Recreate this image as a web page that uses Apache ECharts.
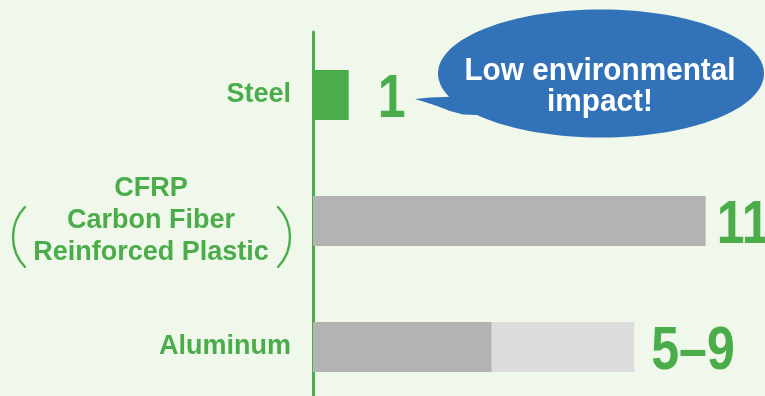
<!DOCTYPE html>
<html>
<head>
<meta charset="utf-8">
<script src="https://cdn.jsdelivr.net/npm/echarts@6/dist/echarts.min.js"></script>
<style>
  html, body { margin: 0; padding: 0; background: #f0f8ec; }
  #chart { width: 765px; height: 396px; }
</style>
</head>
<body>
<div id="chart"></div>
<script>
// Materials and their relative environmental impact
const categories = ['Steel', 'CFRP', 'Aluminum'];
const upperValues = [1, 11, 9];        // single value, or top of the range
const lowerValues = [null, null, 5];   // bottom of the range where one exists
const valueLabels = ['1', '11', '5–9'];

const GREEN = '#4aad4a';
const BLUE = '#3272b8';
const DARK_GRAY = '#b3b3b3';
const barFill = { Steel: GREEN, CFRP: DARK_GRAY, Aluminum: '#dcdddc' };
const labelGap = { Steel: 29, CFRP: 11, Aluminum: 17 };

const LABEL_FONT = '"Liberation Sans", Arial, sans-serif';

const chart = echarts.init(document.getElementById('chart'), null, { renderer: 'canvas' });

chart.setOption({
  animation: false,
  backgroundColor: '#f0f8ec',
  grid: { left: 313, top: 32, width: 428.4, height: 378, outerBoundsMode: 'none', containLabel: false },
  xAxis: { type: 'value', min: 0, max: 12, show: false },
  yAxis: {
    type: 'category',
    data: categories,
    inverse: true,
    axisTick: { show: false },
    splitLine: { show: false },
    axisLine: { show: true, lineStyle: { color: GREEN, width: 3 } },
    axisLabel: {
      margin: 22,
      color: GREEN,
      fontFamily: LABEL_FONT,
      fontWeight: 'bold',
      fontSize: 27,
      formatter: function (name) {
        if (name === 'CFRP') {
          return '{c|CFRP}\n{c|Carbon Fiber}\n{c|Reinforced Plastic}';
        }
        return name;
      },
      rich: {
        c: {
          width: 280,
          align: 'center',
          color: GREEN,
          fontFamily: LABEL_FONT,
          fontWeight: 'bold',
          fontSize: 27,
          lineHeight: 32
        }
      }
    }
  },
  series: [
    {
      type: 'bar',
      name: 'upper',
      barWidth: 50,
      barGap: '-100%',
      z: 2,
      data: upperValues.map(function (v, i) {
        return { value: v, itemStyle: { color: barFill[categories[i]] } };
      })
    },
    {
      type: 'bar',
      name: 'lower',
      barWidth: 50,
      z: 3,
      data: lowerValues,
      itemStyle: { color: DARK_GRAY }
    }
  ]
});

// Value figures in a condensed face, placed at the end of each bar
const valueTexts = categories.map(function (name, i) {
  const p = chart.convertToPixel({ gridIndex: 0 }, [upperValues[i], name]);
  return {
    type: 'text',
    x: p[0] + labelGap[name],
    y: p[1] + 5.5,
    scaleX: 0.82,
    z: 10,
    style: {
      text: valueLabels[i], fill: GREEN,
      font: 'bold 61px ' + LABEL_FONT, align: 'left', verticalAlign: 'middle'
    }
  };
});

// Brackets around the CFRP description
const cfrpY = chart.convertToPixel({ yAxisIndex: 0 }, 'CFRP') + 16;
const bracketR = 43.5;
const half = Math.asin(30 / bracketR);

chart.setOption({
  graphic: valueTexts.concat([
    {
      type: 'arc',
      shape: { cx: 13 + bracketR, cy: cfrpY, r: bracketR, startAngle: Math.PI - half, endAngle: Math.PI + half },
      style: { stroke: GREEN, lineWidth: 2.4, fill: null, lineCap: 'round' }
    },
    {
      type: 'arc',
      shape: { cx: 290 - bracketR, cy: cfrpY, r: bracketR, startAngle: -half, endAngle: half },
      style: { stroke: GREEN, lineWidth: 2.4, fill: null, lineCap: 'round' }
    },
    // Speech bubble
    {
      type: 'polygon',
      shape: {
        points: [[415, 99], [430, 97.5], [445, 97], [460, 96], [470, 100], [477, 115],
                 [463, 114.5], [450, 111], [437, 106], [425, 102]]
      },
      style: { fill: BLUE }
    },
    {
      type: 'ellipse',
      shape: { cx: 601, cy: 73.5, rx: 163, ry: 64 },
      style: { fill: BLUE }
    },
    {
      type: 'text',
      x: 600, y: 71, scaleX: 0.93,
      style: {
        text: 'Low environmental', fill: '#ffffff',
        font: 'bold 32px ' + LABEL_FONT, align: 'center', verticalAlign: 'middle'
      }
    },
    {
      type: 'text',
      x: 600, y: 102, scaleX: 0.93,
      style: {
        text: 'impact!', fill: '#ffffff',
        font: 'bold 32px ' + LABEL_FONT, align: 'center', verticalAlign: 'middle'
      }
    }
  ])
});
</script>
</body>
</html>
